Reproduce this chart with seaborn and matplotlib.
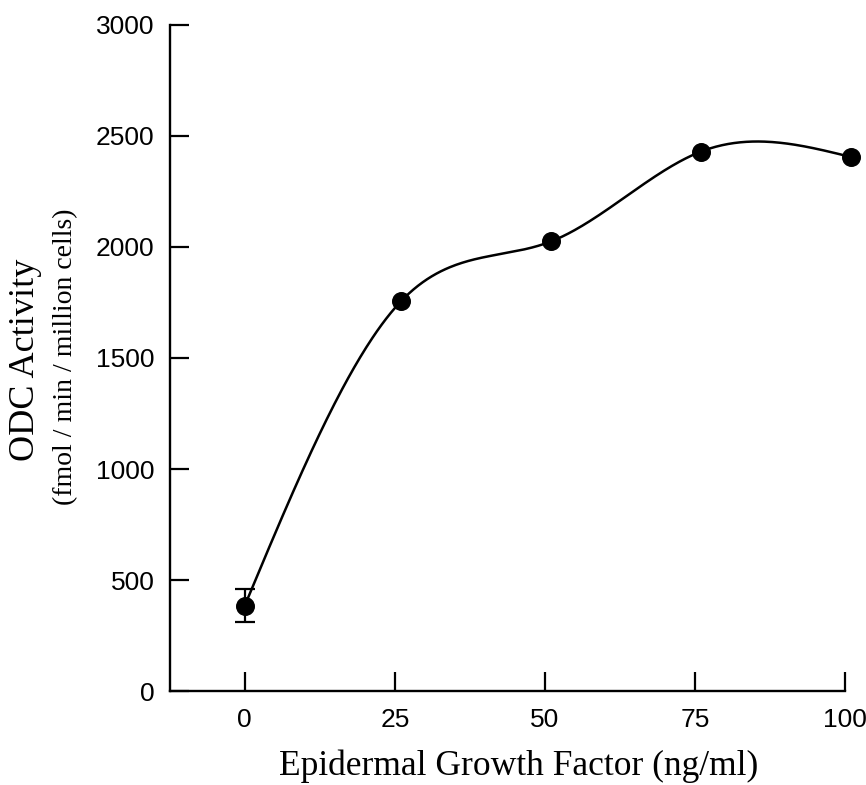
import numpy as np
import pandas as pd
import seaborn as sns
import matplotlib.pyplot as plt

# values
egf = [0, 26, 51, 76, 101]            # ng/ml
odc = [385, 1755, 2025, 2430, 2405]   # fmol/min/million cells
odc_err = [75, 0, 0, 0, 0]
x_ticks = [0, 25, 50, 75, 100]
y_ticks = [0, 500, 1000, 1500, 2000, 2500, 3000]


def natural_spline(x, y, xs):
    # plain natural cubic spline through the data points
    x = np.asarray(x, float)
    y = np.asarray(y, float)
    n = len(x)
    h = np.diff(x)
    A = np.zeros((n, n))
    b = np.zeros(n)
    A[0, 0] = A[-1, -1] = 1
    for i in range(1, n - 1):
        A[i, i - 1] = h[i - 1]
        A[i, i] = 2 * (h[i - 1] + h[i])
        A[i, i + 1] = h[i]
        b[i] = 6 * ((y[i + 1] - y[i]) / h[i] - (y[i] - y[i - 1]) / h[i - 1])
    M = np.linalg.solve(A, b)
    idx = np.clip(np.searchsorted(x, xs) - 1, 0, n - 2)
    t0 = x[idx + 1] - xs
    t1 = xs - x[idx]
    hi = h[idx]
    return (M[idx] * t0**3 / (6 * hi) + M[idx + 1] * t1**3 / (6 * hi)
            + (y[idx] / hi - M[idx] * hi / 6) * t0
            + (y[idx + 1] / hi - M[idx + 1] * hi / 6) * t1)


df = pd.DataFrame({"egf": egf, "odc": odc, "err": odc_err})
xs = np.linspace(egf[0], egf[-1], 400)
curve = pd.DataFrame({"egf": xs, "odc": natural_spline(egf, odc, xs)})

sns.set_style("ticks", {"text.color": "black", "xtick.color": "black",
                        "ytick.color": "black", "axes.edgecolor": "black"})
plt.rcParams['font.family'] = ['Liberation Sans', 'DejaVu Sans']

fig = plt.figure(figsize=(8.66, 7.85), dpi=100)
ax = fig.add_axes([0.196, 0.1197, 0.78, 0.8485])

sns.lineplot(data=curve, x="egf", y="odc", color="black", lw=1.8, ax=ax,
             clip_on=False)
ax.errorbar(df.egf[df.err > 0], df.odc[df.err > 0], yerr=df.err[df.err > 0],
            fmt="none", ecolor="black", elinewidth=1.6, capsize=7,
            capthick=1.6, clip_on=False, zorder=3)
sns.scatterplot(data=df, x="egf", y="odc", color="black", s=160,
                edgecolor="black", ax=ax, zorder=4, clip_on=False)

ax.set_xlim(-12.5, 100)
ax.set_ylim(0, 3000)
ax.set_xticks(x_ticks)
ax.set_yticks(y_ticks)
ax.tick_params(direction="in", length=14, width=1.6, labelsize=19)
ax.tick_params(axis="y", pad=11)
ax.tick_params(axis="x", pad=12)
sns.despine(ax=ax)
for s in ["left", "bottom"]:
    ax.spines[s].set_linewidth(1.7)
ax.set_xlabel("")
ax.set_ylabel("")

serif = ['Liberation Serif', 'DejaVu Serif']
fig.text(519 / 866, 1 - 775 / 785, "Epidermal Growth Factor (ng/ml)",
         family=serif, size=25.5, ha="center", va="baseline")
fig.text(26 / 866, 1 - 360 / 785, "ODC Activity", family=serif, size=26,
         rotation=90, ha="center", va="center")
fig.text(66 / 866, 1 - 357 / 785, "(fmol / min / million cells)",
         family=serif, size=20, rotation=90, ha="center", va="center")

fig.savefig("out.png", dpi=100)
